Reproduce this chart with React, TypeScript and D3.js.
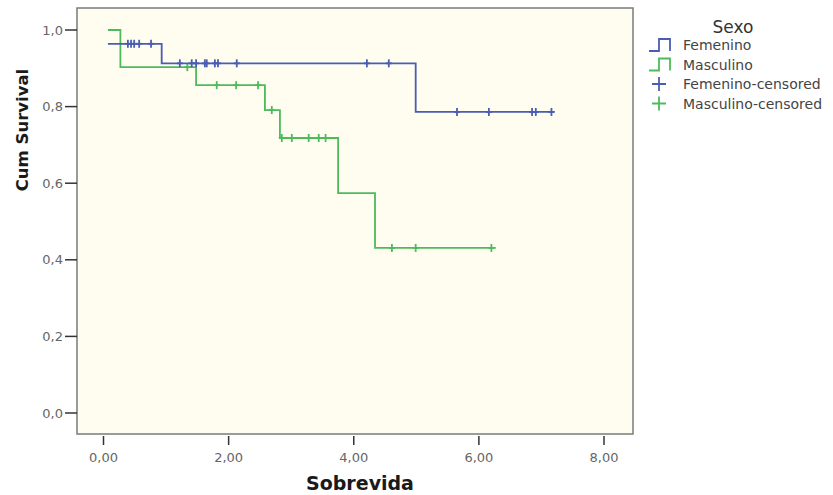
import { useEffect, useRef } from 'react'
import * as d3 from 'd3'

// Kaplan-Meier steps (time, cumulative survival after that time)
const femTimes = [0.07, 0.93, 4.99, 7.21]
const femSurv = [0.964, 0.913, 0.786, 0.786]
const mascTimes = [0.07, 0.27, 1.48, 2.58, 2.82, 3.75, 4.34, 6.27]
const mascSurv = [1.0, 0.903, 0.856, 0.791, 0.718, 0.574, 0.431, 0.431]

// censored observations
const femCensored = [0.39, 0.44, 0.49, 0.57, 0.76, 1.22, 1.41, 1.48, 1.62, 1.65, 1.78, 1.83, 2.13, 4.21, 4.56, 5.65, 6.16, 6.85, 6.91, 7.16]
const mascCensored = [1.34, 1.81, 2.12, 2.47, 2.69, 2.85, 3.01, 3.28, 3.44, 3.55, 4.61, 4.99, 6.2]

const xTicks = [0, 2, 4, 6, 8]
const yTicks = [0, 0.2, 0.4, 0.6, 0.8, 1.0]
const legendLabels = ['Femenino', 'Masculino', 'Femenino-censored', 'Masculino-censored']

const BLUE = '#4a5db3'
const GREEN = '#4dbb5c'
const FONT = 'DejaVu Sans, Verdana, sans-serif'

export default function App() {
  const svgRef = useRef<SVGSVGElement | null>(null)

  useEffect(() => {
    if (!svgRef.current) return
    const width = 833
    const height = 495
    const plot = { left: 77, top: 8, right: 633, bottom: 434 }

    const svg = d3.select(svgRef.current)
    svg.selectAll('*').remove()
    svg.attr('width', width).attr('height', height)

    const x = d3.scaleLinear().domain([0, 8]).range([103.5, 604])
    const y = d3.scaleLinear().domain([0, 1]).range([413, 30])

    // plot background
    svg
      .append('rect')
      .attr('x', plot.left)
      .attr('y', plot.top)
      .attr('width', plot.right - plot.left)
      .attr('height', plot.bottom - plot.top)
      .attr('fill', '#fffdf0')
      .attr('stroke', '#7a7a7a')
      .attr('stroke-width', 1.5)

    const fmt = (v: number, d: number) => v.toFixed(d).replace('.', ',')

    // y axis
    const yAxis = svg.append('g')
    yTicks.forEach(t => {
      yAxis
        .append('line')
        .attr('x1', 65)
        .attr('x2', plot.left)
        .attr('y1', y(t))
        .attr('y2', y(t))
        .attr('stroke', '#333')
        .attr('stroke-width', 1.5)
      yAxis
        .append('text')
        .attr('x', 63)
        .attr('y', y(t) + 4.5)
        .attr('text-anchor', 'end')
        .style('font-family', FONT)
        .style('font-size', '13px')
        .attr('fill', '#666')
        .text(fmt(t, 1))
    })

    // x axis
    const xAxis = svg.append('g')
    xTicks.forEach(t => {
      xAxis
        .append('line')
        .attr('x1', x(t))
        .attr('x2', x(t))
        .attr('y1', plot.bottom + 2)
        .attr('y2', plot.bottom + 11)
        .attr('stroke', '#333')
        .attr('stroke-width', 1.5)
      xAxis
        .append('text')
        .attr('x', x(t))
        .attr('y', 462)
        .attr('text-anchor', 'middle')
        .style('font-family', FONT)
        .style('font-size', '13px')
        .attr('fill', '#666')
        .text(fmt(t, 2))
    })

    // axis titles
    svg
      .append('text')
      .attr('x', 360)
      .attr('y', 490)
      .attr('text-anchor', 'middle')
      .style('font-family', FONT)
      .style('font-size', '19px')
      .style('font-weight', 'bold')
      .attr('fill', '#1a1a1a')
      .text('Sobrevida')

    svg
      .append('text')
      .attr('transform', 'translate(28,130) rotate(-90)')
      .attr('text-anchor', 'middle')
      .style('font-family', FONT)
      .style('font-size', '16.5px')
      .style('font-weight', 'bold')
      .attr('fill', '#1a1a1a')
      .text('Cum Survival')

    const line = d3
      .line<[number, number]>()
      .x(d => x(d[0]))
      .y(d => y(d[1]))
      .curve(d3.curveStepAfter)

    const survAt = (times: number[], surv: number[], t: number) => {
      let s = surv[0]
      times.forEach((tt, i) => {
        if (tt <= t) s = surv[i]
      })
      return s
    }

    const series = [
      { times: femTimes, surv: femSurv, cens: femCensored, color: BLUE },
      { times: mascTimes, surv: mascSurv, cens: mascCensored, color: GREEN },
    ]

    // draw green first so blue sits on top where they overlap
    ;[series[1], series[0]].forEach(s => {
      const pts = s.times.map((t, i) => [t, s.surv[i]] as [number, number])
      svg
        .append('path')
        .attr('d', line(pts))
        .attr('fill', 'none')
        .attr('stroke', s.color)
        .attr('stroke-width', 1.8)

      const g = svg.append('g')
      s.cens.forEach(t => {
        const cx = x(t)
        const cy = y(survAt(s.times, s.surv, t))
        g.append('line')
          .attr('x1', cx)
          .attr('x2', cx)
          .attr('y1', cy - 4)
          .attr('y2', cy + 4)
          .attr('stroke', s.color)
          .attr('stroke-width', 1.8)
        g.append('line')
          .attr('x1', cx - 3)
          .attr('x2', cx + 3)
          .attr('y1', cy)
          .attr('y2', cy)
          .attr('stroke', s.color)
          .attr('stroke-width', 1.8)
      })
    })

    // legend
    const leg = svg.append('g')
    leg
      .append('text')
      .attr('x', 733)
      .attr('y', 33)
      .attr('text-anchor', 'middle')
      .style('font-family', FONT)
      .style('font-size', '17px')
      .attr('fill', '#333')
      .text('Sexo')

    legendLabels.forEach((label, i) => {
      const cy = 45 + i * 19.5
      const color = i % 2 === 0 ? BLUE : GREEN
      if (i < 2) {
        leg
          .append('path')
          .attr('d', `M649,${cy + 6}H659V${cy - 6}H670V${cy + 6}`)
          .attr('fill', 'none')
          .attr('stroke', color)
          .attr('stroke-width', 1.8)
      } else {
        leg
          .append('path')
          .attr('d', `M652,${cy}H666M659,${cy - 7}V${cy + 7}`)
          .attr('fill', 'none')
          .attr('stroke', color)
          .attr('stroke-width', 1.8)
      }
      leg
        .append('text')
        .attr('x', 683)
        .attr('y', cy + 5)
        .style('font-family', FONT)
        .style('font-size', '14px')
        .attr('fill', '#444')
        .text(label)
    })
  }, [])

  return (
    <svg
      ref={svgRef}
      style={{ position: 'absolute', left: 0, top: 0, display: 'block', background: '#fff' }}
    ></svg>
  )
}
